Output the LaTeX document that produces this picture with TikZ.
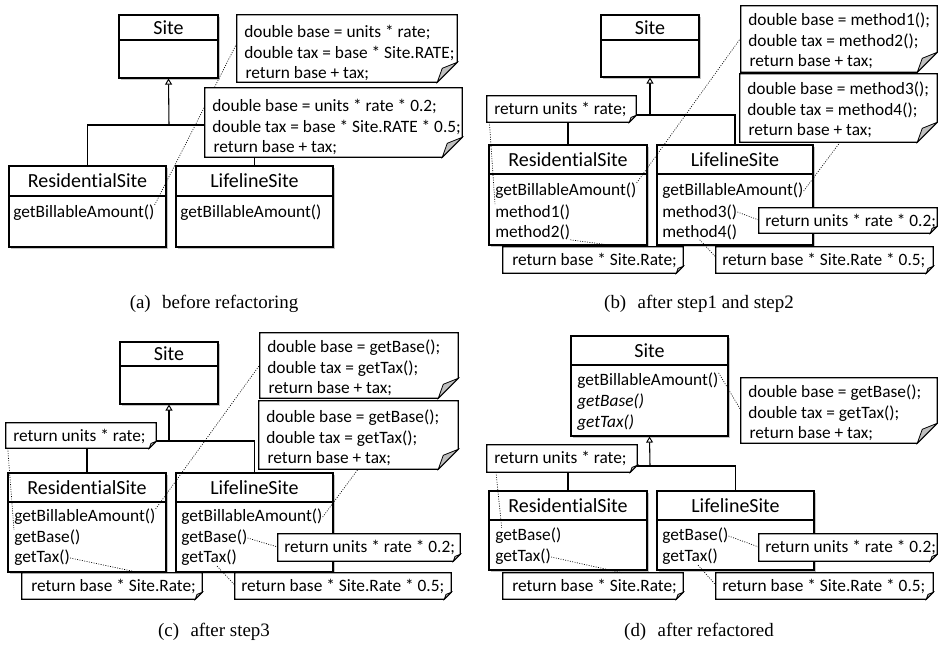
\documentclass[tikz,border=0pt]{standalone}
\usepackage{fontspec}
\setmainfont{Carlito}[Ligatures=NoCommon]
\newfontfamily\capfont{Liberation Serif}
\usetikzlibrary{arrows.meta,fit,calc,shadows}

\pgfdeclarelayer{background}
\pgfsetlayers{background,main}

\newcommand{\bodyfont}{\fontsize{13}{15.4}\selectfont}
\newcommand{\headfont}{\fontsize{15}{18}\selectfont}
\newcommand{\captionfont}{\capfont\fontsize{14.2}{17}\selectfont}

\tikzset{
  clsbox/.style={draw, fill=white, line width=0.8pt, inner sep=0pt,
    drop shadow={shadow xshift=1.8pt, shadow yshift=-1.8pt, fill=black!45, opacity=0.5}},
  clsrule/.style={line width=0.8pt},
  clstitle/.style={font=\headfont, inner sep=0pt},
  optext/.style={font=\bodyfont, anchor=west, inner sep=0pt},
  notearea/.style={inner sep=0pt, draw=none},
  noteframe/.style={draw, fill=white, line width=0.8pt},
  notefold/.style={draw, fill=black!25, line width=0.6pt},
  notetext/.style={font=\bodyfont, anchor=west, align=left, inner sep=0pt},
  tie/.style={line width=0.5pt, dash pattern=on 0.7pt off 1.1pt},
  genline/.style={line width=0.8pt},
  gen/.style={genline, -{Triangle[open, length=4.5pt, width=5.2pt, line width=0.7pt, fill=white]}},
  subcap/.style={font=\captionfont, anchor=base, inner sep=0pt},
}

% UML class: name, x1, y1, x2, y2, divider y, title
\newcommand{\umlclass}[7]{%
  \node[clsbox, fit={(#2,#3) (#4,#5)}] (#1) {};
  \draw[clsrule] (#2,#6) -- (#4,#6);
  \node[clstitle] (#1-title) at ($(#2,#3)!0.5!(#4,#6)$) {#7};
}
% one operation line of a class: name, x, y, text
\newcommand{\umlop}[4]{\node[optext] (#1) at (#2,#3) {#4};}
% comment note with a folded corner: name, x1, y1, x2, y2, fold size
\newcommand{\umlnote}[6]{%
  \node[notearea, fit={(#2,#3) (#4,#5)}] (#1) {};
  \filldraw[noteframe] (#1.north west) -- (#1.north east)
     -- ([yshift=#6*0.75pt]#1.south east) -- ([xshift=-#6*0.75pt]#1.south east)
     -- (#1.south west) -- cycle;
  \filldraw[notefold] ([yshift=#6*0.75pt]#1.south east)
     -- ([xshift=-#6*0.75pt]#1.south east)
     -- ([xshift=-0.75*#6*0.75pt, yshift=0.7*#6*0.75pt]#1.south east) -- cycle;
}

\begin{document}
\begin{tikzpicture}[x=0.75pt, y=-0.75pt]
\fill[white] (0,0) rectangle (938,644);
\useasboundingbox (0,0) rectangle (938,644);

%% ---------------- (a) before refactoring ----------------
\umlclass{a-site}{119}{15}{218}{78}{40}{Site}
\umlclass{a-res}{9}{166}{166}{247}{196}{ResidentialSite}
\umlop{a-res-op1}{13}{213}{getBillableAmount()}
\umlclass{a-life}{176}{166}{333}{247}{196}{LifelineSite}
\umlop{a-life-op1}{180}{213}{getBillableAmount()}
\coordinate (a-fork) at (169,125);
\draw[genline] (a-res.north) |- (a-fork) -| (a-life.north);
\draw[gen] (a-fork) -- (a-site.south);
\draw[tie] (a-res-op1.north east) -- (237,43);
\umlnote{a-n1}{237}{15}{457}{82}{20}
\node[notetext] (a-n1-text) at (244,53) {double base = units * rate;\\double tax = base * Site.RATE;\\\kern1pt return base + tax;};
\umlnote{a-n2}{205}{88}{462}{157}{20}
\node[notetext] (a-n2-text) at (212,127) {double base = units * rate * 0.2;\\double tax = base * Site.RATE * 0.5;\\\kern1pt return base + tax;};
\begin{pgfonlayer}{background}
\draw[tie] (a-n2.south -| 331,0) -- (a-life-op1.north east);
\end{pgfonlayer}

%% ---------------- (b) after step1 and step2 ----------------
\umlclass{b-site}{601}{15}{699}{77}{40}{Site}
\umlclass{b-res}{489}{145}{647}{245}{174}{ResidentialSite}
\umlop{b-res-op1}{495}{191}{getBillableAmount()}
\umlop{b-res-op2}{495}{212}{method1()}
\umlop{b-res-op3}{495}{232}{method2()}
\umlclass{b-life}{657}{145}{813}{245}{174}{LifelineSite}
\umlop{b-life-op1}{662}{191}{getBillableAmount()}
\umlop{b-life-op2}{662}{212}{method3()}
\umlop{b-life-op3}{662}{232}{method4()}
\coordinate (b-fork) at (650,115);
\draw[genline] (b-res.north) |- (b-fork) -| (b-life.north);
\draw[gen] (b-fork) -- (b-site.south);
\umlnote{b-n1}{741}{6}{937}{72}{20}
\node[notetext] (b-n1-text) at (748,41) {double base = method1();\\double tax = method2();\\\kern1pt return base + tax;};
\umlnote{b-n2}{740}{74}{937}{142}{20}
\node[notetext] (b-n2-text) at (747,110) {double base = method3();\\double tax = method4();\\\kern1pt return base + tax;};
\umlnote{b-nr}{487}{96}{636}{122}{7}
\node[notetext] (b-nr-text) at (494,109) {return units * rate;};
\umlnote{b-n02}{759}{208}{937}{233}{7}
\node[notetext] (b-n02-text) at (765,221) {return units * rate * 0.2;};
\umlnote{b-nsr}{503}{247}{683}{273}{7}
\node[notetext] (b-nsr-text) at (512,260) {return base * Site.Rate;};
\umlnote{b-n05}{716}{247}{933}{273}{7}
\node[notetext] (b-n05-text) at (722,260) {return base * Site.Rate * 0.5;};
\draw[tie] ([xshift=2pt]b-nr.south west) -- (b-res-op2.north west);
\draw[tie] (b-res-op1.north east) -- (b-n1.west |- 0,38);
\draw[tie] (b-res-op3.south east) -- (b-nsr.north -| 622,0);
\draw[tie] (b-life-op1.east) -- (b-n2.south -| 840,0);
\draw[tie] (b-life-op2.east) -- (b-n02.west |- 0,220);
\draw[tie] (b-life-op3.south) -- (b-n05.west |- 0,257);

%% ---------------- (c) after step3 ----------------
\umlclass{c-site}{120}{342}{218}{404}{366}{Site}
\umlclass{c-res}{8}{473}{166}{572}{502}{ResidentialSite}
\umlop{c-res-op1}{14}{517}{getBillableAmount()}
\umlop{c-res-op2}{14}{538}{getBase()}
\umlop{c-res-op3}{14}{558}{getTax()}
\umlclass{c-life}{176}{473}{333}{572}{502}{LifelineSite}
\umlop{c-life-op1}{181}{517}{getBillableAmount()}
\umlop{c-life-op2}{181}{538}{getBase()}
\umlop{c-life-op3}{181}{558}{getTax()}
\coordinate (c-fork) at (169,441);
\draw[genline] (c-res.north) |- (c-fork) -| (c-life.north);
\draw[gen] (c-fork) -- (c-site.south);
\umlnote{c-nr}{6}{423}{156}{448}{7}
\node[notetext] (c-nr-text) at (13,436) {return units * rate;};
\umlnote{c-n1}{260}{333}{458}{398}{20}
\node[notetext] (c-n1-text) at (267,368) {double base = getBase();\\double tax = getTax();\\\kern1pt return base + tax;};
\umlnote{c-n2}{259}{401}{458}{469}{20}
\node[notetext] (c-n2-text) at (266,438) {double base = getBase();\\double tax = getTax();\\\kern1pt return base + tax;};
\umlnote{c-n02}{278}{534}{460}{561}{7}
\node[notetext] (c-n02-text) at (284,547) {return units * rate * 0.2;};
\umlnote{c-nsr}{22}{573}{202}{599}{7}
\node[notetext] (c-nsr-text) at (31,586) {return base * Site.Rate;};
\umlnote{c-n05}{235}{573}{451}{599}{7}
\node[notetext] (c-n05-text) at (241,586) {return base * Site.Rate * 0.5;};
\draw[tie] ([xshift=1.5pt]c-nr.south west) -- (c-res-op2.north west);
\draw[tie] (c-res-op1.north east) -- (c-n1.west |- 0,365);
\draw[tie] (c-res-op3.east) -- (c-nsr.north -| 140,0);
\draw[tie] (c-life-op1.east) -- (c-n2.south -| 358,0);
\draw[tie] (c-life-op2.east) -- (c-n02.west |- 0,547);
\draw[tie] ([xshift=6pt]c-life-op3.south) -- (c-n05.west |- 0,585);

%% ---------------- (d) after refactored ----------------
\umlclass{d-site}{571}{336}{728}{436}{365}{Site}
\umlop{d-site-op1}{577}{381}{getBillableAmount()}
\umlop{d-site-op2}{577}{402}{\textit{getBase()}}
\umlop{d-site-op3}{577}{423}{\textit{getTax()}}
\umlclass{d-res}{489}{491}{647}{570}{520}{ResidentialSite}
\umlop{d-res-op1}{495}{536}{getBase()}
\umlop{d-res-op2}{495}{557}{getTax()}
\umlclass{d-life}{657}{491}{814}{570}{520}{LifelineSite}
\umlop{d-life-op1}{662}{536}{getBase()}
\umlop{d-life-op2}{662}{557}{getTax()}
\coordinate (d-fork) at (650,466);
\draw[genline] (d-res.north) |- (d-fork) -| (d-life.north);
\draw[gen] (d-fork) -- (d-site.south);
\umlnote{d-nr}{487}{445}{637}{472}{7}
\node[notetext] (d-nr-text) at (494,458) {return units * rate;};
\umlnote{d-n1}{741}{378}{937}{443}{20}
\node[notetext] (d-n1-text) at (748,413) {double base = getBase();\\double tax = getTax();\\\kern1pt return base + tax;};
\umlnote{d-n02}{759}{534}{937}{561}{7}
\node[notetext] (d-n02-text) at (765,547) {return units * rate * 0.2;};
\umlnote{d-nsr}{503}{573}{683}{599}{7}
\node[notetext] (d-nsr-text) at (512,586) {return base * Site.Rate;};
\umlnote{d-n05}{716}{573}{933}{599}{7}
\node[notetext] (d-n05-text) at (722,586) {return base * Site.Rate * 0.5;};
\draw[tie] (d-site-op1.north east) -- (d-n1.west |- 0,410);
\draw[tie] ([xshift=7pt]d-nr.south west) -- ([xshift=5pt]d-res-op1.north west);
\draw[tie] (d-res-op2.east) -- (d-nsr.north -| 622,0);
\draw[tie] (d-life-op1.east) -- (d-n02.west |- 0,547);
\draw[tie] ([xshift=6pt]d-life-op2.south) -- (d-n05.west |- 0,585);

%% ---------------- sub-captions ----------------
\node[subcap] (cap-a) at (214,308) {(a)\hspace{0.6em}before refactoring};
\node[subcap] (cap-b) at (699,308) {(b)\hspace{0.6em}after step1 and step2};
\node[subcap] (cap-c) at (214,636) {(c)\hspace{0.6em}after step3};
\node[subcap] (cap-d) at (699,636) {(d)\hspace{0.6em}after refactored};
\end{tikzpicture}
\end{document}
